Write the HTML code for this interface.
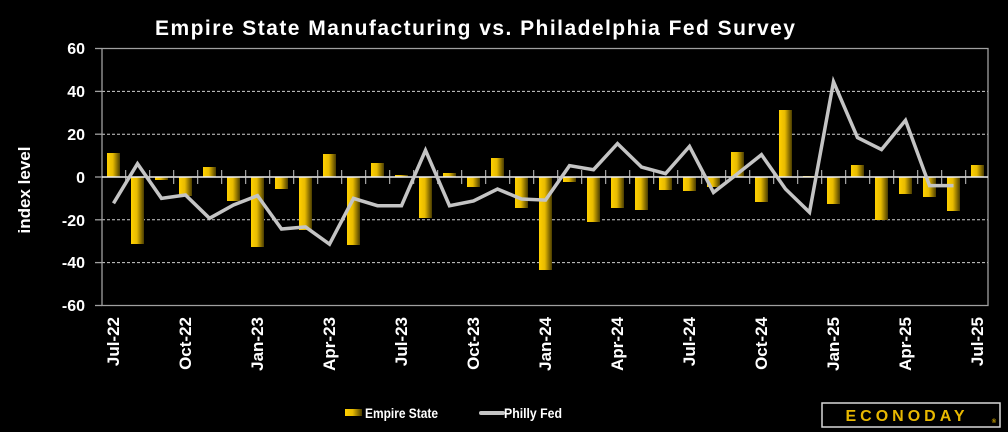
<!DOCTYPE html>
<html><head><meta charset="utf-8"><style>
html,body{margin:0;padding:0;background:#000;}
svg{display:block;}
text{font-family:"Liberation Sans",sans-serif;font-weight:bold;fill:#fff;}
</style></head><body>
<svg width="1008" height="432" viewBox="0 0 1008 432" xmlns="http://www.w3.org/2000/svg">
<defs>
<linearGradient id="g" x1="0" x2="1" y1="0" y2="0">
<stop offset="0" stop-color="#ffd000"/><stop offset="0.45" stop-color="#e8bb00"/><stop offset="1" stop-color="#4a3c00"/>
</linearGradient>
</defs>
<rect width="1008" height="432" fill="#000"/>
<text x="155" y="35" font-size="21" textLength="640" lengthAdjust="spacing">Empire State Manufacturing vs. Philadelphia Fed Survey</text>
<!-- grid -->
<g stroke="#d0d0d0" stroke-width="1" stroke-dasharray="3 2">
<line x1="102" y1="91.4" x2="988" y2="91.4"/>
<line x1="102" y1="134.2" x2="988" y2="134.2"/>
<line x1="102" y1="219.8" x2="988" y2="219.8"/>
<line x1="102" y1="262.6" x2="988" y2="262.6"/>
</g>
<g stroke="#a0a0a0" stroke-width="1.3" fill="none">
<polyline points="102,48.5 988,48.5 988,305.5 102,305.5 102,48.5"/>
<line x1="95" y1="48.5" x2="102" y2="48.5"/>
<line x1="95" y1="91.4" x2="102" y2="91.4"/>
<line x1="95" y1="134.2" x2="102" y2="134.2"/>
<line x1="95" y1="177" x2="102" y2="177"/>
<line x1="95" y1="219.8" x2="102" y2="219.8"/>
<line x1="95" y1="262.6" x2="102" y2="262.6"/>
<line x1="95" y1="305.5" x2="102" y2="305.5"/>
</g>
<!-- bars -->
<g fill="url(#g)">
<rect x="107" y="153" width="13" height="24"/>
<rect x="131" y="177" width="13" height="67"/>
<rect x="155" y="177" width="13" height="3"/>
<rect x="179" y="177" width="13" height="19"/>
<rect x="203" y="167" width="13" height="10"/>
<rect x="227" y="177" width="13" height="24"/>
<rect x="251" y="177" width="13" height="70"/>
<rect x="275" y="177" width="13" height="12"/>
<rect x="299" y="177" width="13" height="53"/>
<rect x="323" y="154" width="13" height="23"/>
<rect x="347" y="177" width="13" height="68"/>
<rect x="371" y="163" width="13" height="14"/>
<rect x="395" y="175" width="13" height="2"/>
<rect x="419" y="177" width="13" height="41"/>
<rect x="443" y="173" width="13" height="4"/>
<rect x="467" y="177" width="13" height="10"/>
<rect x="491" y="158" width="13" height="19"/>
<rect x="515" y="177" width="13" height="31"/>
<rect x="539" y="177" width="13" height="93"/>
<rect x="563" y="177" width="13" height="5"/>
<rect x="587" y="177" width="13" height="45"/>
<rect x="611" y="177" width="13" height="31"/>
<rect x="635" y="177" width="13" height="33"/>
<rect x="659" y="177" width="13" height="13"/>
<rect x="683" y="177" width="13" height="14"/>
<rect x="707" y="177" width="13" height="10"/>
<rect x="731" y="152" width="13" height="25"/>
<rect x="755" y="177" width="13" height="25"/>
<rect x="779" y="110" width="13" height="67"/>
<rect x="803" y="176" width="13" height="1"/>
<rect x="827" y="177" width="13" height="27"/>
<rect x="851" y="165" width="13" height="12"/>
<rect x="875" y="177" width="13" height="43"/>
<rect x="899" y="177" width="13" height="17"/>
<rect x="923" y="177" width="13" height="20"/>
<rect x="947" y="177" width="13" height="34"/>
<rect x="971" y="165" width="13" height="12"/>
</g>
<!-- zero line and ticks -->
<line x1="102" y1="177" x2="988" y2="177" stroke="#f0f0f0" stroke-width="1.5"/>
<line x1="125.2" y1="177" x2="989" y2="177" stroke="#c8c8c8" stroke-width="14" stroke-dasharray="1 23"/>
<!-- philly line -->
<polyline fill="none" stroke="#c4c4c4" stroke-width="3.5" stroke-linejoin="miter" points="113.5,203.3 137.5,163.7 161.5,198.4 185.5,195 209.5,218.3 233.5,205 257.5,195.6 281.5,229 305.5,226.9 329.5,244.2 353.5,198.4 377.5,205.7 401.5,205.7 425.5,150.3 449.5,205.7 473.5,201 497.5,189 521.5,199 545.5,200.1 569.5,165.7 593.5,169.7 617.5,143.6 641.5,167 665.5,173.6 689.5,146.4 713.5,192.4 737.5,173.8 761.5,154.7 785.5,189 809.5,212.3 833.5,81.8 857.5,137.6 881.5,149.6 905.5,120.3 929.5,185.6 953.5,185.6"/>
<!-- y labels -->
<g font-size="16" text-anchor="end">
<text x="85" y="54">60</text>
<text x="85" y="97">40</text>
<text x="85" y="140">20</text>
<text x="85" y="183">0</text>
<text x="85" y="226">-20</text>
<text x="85" y="268">-40</text>
<text x="85" y="311">-60</text>
</g>
<text transform="translate(30,190) rotate(-90)" font-size="17" text-anchor="middle">index level</text>
<!-- x labels -->
<g font-size="17" text-anchor="end">
<text transform="translate(119,317) rotate(-90)">Jul-22</text>
<text transform="translate(191,317) rotate(-90)">Oct-22</text>
<text transform="translate(263,317) rotate(-90)">Jan-23</text>
<text transform="translate(335,317) rotate(-90)">Apr-23</text>
<text transform="translate(407,317) rotate(-90)">Jul-23</text>
<text transform="translate(479,317) rotate(-90)">Oct-23</text>
<text transform="translate(551,317) rotate(-90)">Jan-24</text>
<text transform="translate(623,317) rotate(-90)">Apr-24</text>
<text transform="translate(695,317) rotate(-90)">Jul-24</text>
<text transform="translate(767,317) rotate(-90)">Oct-24</text>
<text transform="translate(839,317) rotate(-90)">Jan-25</text>
<text transform="translate(911,317) rotate(-90)">Apr-25</text>
<text transform="translate(983,317) rotate(-90)">Jul-25</text>
</g>
<!-- legend -->
<rect x="345" y="409" width="17" height="7" fill="url(#g)"/>
<text x="365" y="418" font-size="14" textLength="73" lengthAdjust="spacingAndGlyphs">Empire State</text>
<line x1="481" y1="413" x2="503" y2="413" stroke="#c4c4c4" stroke-width="4" stroke-linecap="round"/>
<text x="504" y="418" font-size="14" textLength="58" lengthAdjust="spacingAndGlyphs">Philly Fed</text>
<rect x="822" y="403" width="178" height="24" fill="#000" stroke="#d8d8d8" stroke-width="1.5"/>
<text x="907" y="421" font-size="16" text-anchor="middle" letter-spacing="4" style="fill:#e8b800">ECONODAY</text>
<text x="994" y="423" font-size="6" text-anchor="middle" style="fill:#e8b800">®</text>
</svg>
</body></html>
